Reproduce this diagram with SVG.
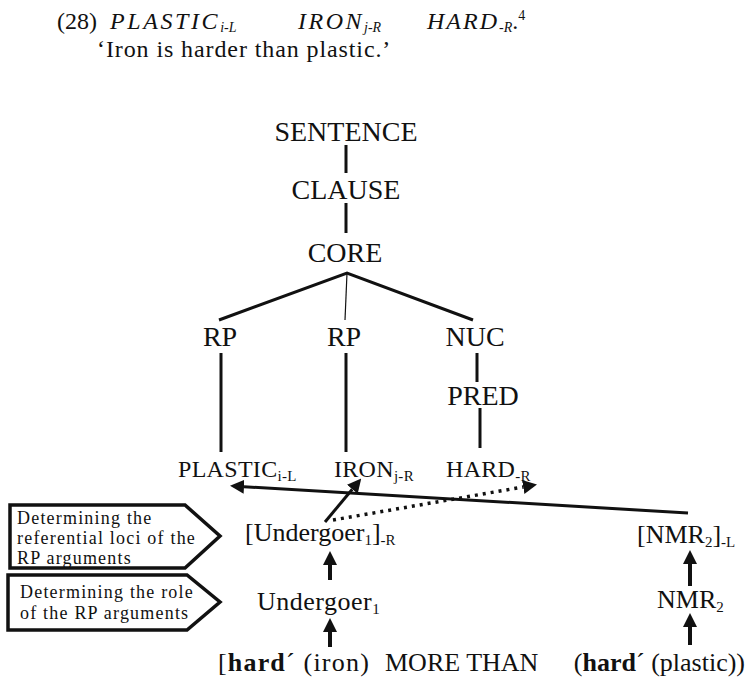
<svg xmlns="http://www.w3.org/2000/svg" width="747" height="681" viewBox="0 0 747 681">
  <style>
    text { font-family: "Liberation Serif", "Times New Roman", serif; fill: #111; }
    .hdr { font-size: 24px; }
    .it { font-style: italic; }
    .node { font-size: 28px; text-anchor: middle; }
    .word { font-size: 24px; }
    .low { font-size: 26px; }
    .box { font-size: 18px; letter-spacing: 1.2px; }
    .sub { font-size: 15px; }
    .hsub { font-size: 14px; }
    .b { font-weight: bold; }
    .tree { stroke: #111; stroke-width: 3; fill: none; }
    .thin { stroke: #111; stroke-width: 1.2; fill: none; }
    .arrow { stroke: #111; stroke-width: 3; fill: none; marker-end: url(#head); }
    .varrow { stroke: #111; stroke-width: 4; fill: none; marker-end: url(#head); }
    .dots { stroke: #111; stroke-width: 3.5; fill: none; stroke-dasharray: 3 5; marker-end: url(#head); }
    .frame { fill: #fff; stroke: #111; stroke-width: 3.5; stroke-linejoin: miter; }
  </style>
  <defs>
    <marker id="head" viewBox="0 0 12 12" refX="0" refY="6" markerWidth="14" markerHeight="14" markerUnits="userSpaceOnUse" orient="auto">
      <path d="M0,0 L12,6 L0,12 z" fill="#111"/>
    </marker>
  </defs>

  <!-- example heading and gloss -->
  <g id="heading">
    <text class="hdr" y="29"><tspan x="57">(28)</tspan><tspan class="it" x="110" letter-spacing="2.6">PLASTIC</tspan><tspan class="it hsub" dy="3">i-L</tspan><tspan class="it" x="298" dy="-3" letter-spacing="2.5">IRON</tspan><tspan class="it hsub" dy="3">j-R</tspan><tspan class="it" x="427" dy="-3" letter-spacing="2">HARD</tspan><tspan class="it hsub" dy="3">-R</tspan><tspan dy="-3">.</tspan><tspan class="hsub" dy="-9">4</tspan></text>
    <text class="hdr" x="97" y="57" letter-spacing="0.9">‘Iron is harder than plastic.’</text>
  </g>

  <!-- tree connectors and arrows -->
  <g id="connectors">
    <line class="tree" x1="346" y1="145" x2="346" y2="173"/>
    <line class="tree" x1="346" y1="203" x2="346" y2="233"/>
    <polyline class="tree" stroke-width="4" points="219,320 347,273 473,320"/>
    <line class="thin" x1="347" y1="273" x2="345" y2="320"/>
    <line class="tree" x1="221" y1="353" x2="221" y2="452"/>
    <line class="tree" x1="346" y1="353" x2="346" y2="452"/>
    <line class="tree" x1="477" y1="353" x2="477" y2="382"/>
    <line class="tree" x1="480" y1="408" x2="480" y2="448"/>
    <!-- linking arrows -->
    <line class="arrow" x1="688" y1="513" x2="244" y2="486.7"/>
    <line class="arrow" x1="325" y1="522" x2="352.3" y2="489.2"/>
    <line class="dots" x1="333" y1="520" x2="523.2" y2="487"/>
    <line class="varrow" x1="330" y1="580" x2="330" y2="565"/>
    <line class="varrow" x1="330" y1="647" x2="330" y2="632"/>
    <line class="varrow" x1="690" y1="586" x2="690" y2="564"/>
    <line class="varrow" x1="690" y1="645" x2="690" y2="627"/>
  </g>

  <!-- tree nodes -->
  <g id="sentence"><text class="node" x="346" y="141">SENTENCE</text></g>
  <g id="clause"><text class="node" x="346" y="199">CLAUSE</text></g>
  <g id="core"><text class="node" x="345" y="262">CORE</text></g>
  <g id="rp1"><text class="node" x="220" y="346">RP</text></g>
  <g id="rp2"><text class="node" x="344" y="346">RP</text></g>
  <g id="nuc"><text class="node" x="475" y="346">NUC</text></g>
  <g id="pred"><text class="node" x="483" y="405">PRED</text></g>

  <!-- words -->
  <g id="plastic"><text class="word" x="178" y="477" letter-spacing="0.3">PLASTIC<tspan class="sub" dy="4">i-L</tspan></text></g>
  <g id="iron"><text class="word" x="334" y="477" letter-spacing="0.3">IRON<tspan class="sub" dy="4">j-R</tspan></text></g>
  <g id="hard"><text class="word" x="446" y="477" letter-spacing="0.3">HARD<tspan class="sub" dy="4">-R</tspan></text></g>

  <!-- steps -->
  <g id="undergoer-loc"><text class="low" x="245" y="541">[Undergoer<tspan class="sub" dy="4">1</tspan><tspan dy="-4">]</tspan><tspan class="sub" dy="4">-R</tspan></text></g>
  <g id="nmr-loc"><text class="low" x="637" y="543">[NMR<tspan class="sub" dy="4">2</tspan><tspan dy="-4">]</tspan><tspan class="sub" dy="4">-L</tspan></text></g>
  <g id="undergoer"><text class="low" x="257" y="610" letter-spacing="0.5">Undergoer<tspan class="sub" dy="4">1</tspan></text></g>
  <g id="nmr"><text class="low" x="657" y="608">NMR<tspan class="sub" dy="4">2</tspan></text></g>
  <g id="logical-structure">
    <text class="low" x="370" y="671" text-anchor="end" letter-spacing="1.2">[<tspan class="b">hard</tspan>´ (iron)</text>
    <text class="low" x="385" y="671">MORE THAN</text>
    <text class="low" x="745" y="671" text-anchor="end">(<tspan class="b">hard</tspan>´ (plastic))</text>
  </g>

  <!-- step labels -->
  <g id="label-loci">
    <polygon class="frame" points="10,505 185,505 220,536 185,568 10,568"/>
    <text class="box" x="17" y="524">Determining the</text>
    <text class="box" x="17" y="544">referential loci of the</text>
    <text class="box" x="17" y="564">RP arguments</text>
  </g>
  <g id="label-role">
    <polygon class="frame" points="8,575 187,575 220,602 187,630 8,630"/>
    <text class="box" x="20" y="598">Determining the role</text>
    <text class="box" x="20" y="619">of the RP arguments</text>
  </g>
</svg>
